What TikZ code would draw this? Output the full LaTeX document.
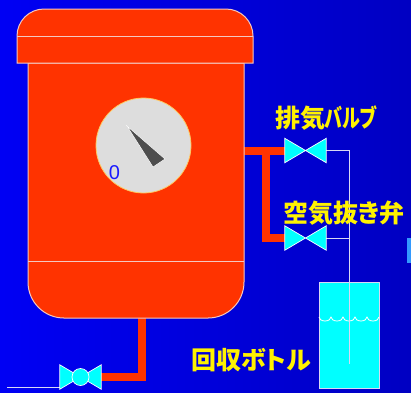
\documentclass[tikz,border=0pt]{standalone}
\usepackage{fontspec}
\newfontfamily\jpfont[RawFeature=+palt]{Noto Sans CJK JP}
\newfontfamily\numfont{Liberation Sans}
\definecolor{TankRed}{HTML}{FF3300}
\definecolor{TankEdge}{HTML}{F4C8C0}
\definecolor{ValveCyan}{HTML}{00FFFF}
\definecolor{BgLeft}{HTML}{0000F4}
\definecolor{BgRight}{HTML}{0000C2}
\definecolor{GaugeFace}{HTML}{DDDDDD}
\definecolor{GaugeRim}{HTML}{FFC860}
\definecolor{Needle}{HTML}{4D4D4D}
\definecolor{TubeGrey}{HTML}{D8D8F4}
\definecolor{SideBlue}{HTML}{3399FF}
\usetikzlibrary{positioning,calc}

\begin{document}
\begin{tikzpicture}[x=1pt, y=1pt,
    valve/.style={rectangle, inner sep=0pt, minimum width=41pt, minimum height=24pt},
    bowtie/.style={fill=ValveCyan, draw=white, line width=0.7pt, line join=miter},
    pipe/.style={draw=TankRed, line width=8pt},
    tube/.style={draw=TubeGrey, line width=1pt},
    wall/.style={fill=TankRed, draw=TankEdge, line width=1pt},
    lbl/.style={text=yellow, font=\jpfont\bfseries\fontsize{25}{25}\selectfont, inner sep=0pt}]
    \useasboundingbox (0,0) rectangle (411,-392);
    \shade[left color=BgLeft, right color=BgRight] (0,0) rectangle (411,-392);
    \fill[SideBlue] (407,-238) rectangle (411,-263);

    % valves and tie points
    \node[valve] (v1) at (305.5,-150.5) {};
    \node[valve] (v2) at (305.5,-238) {};
    \node[valve] (v3) at (80.5,-377) {};
    \coordinate (tankR) at (244,-150.5);
    \coordinate (tee) at (266,-150.5);
    \coordinate (tankB) at (142,-318);
    \coordinate (riser) at (349,-364);
    \coordinate (drain) at (7,-387);

    % red pipework
    \draw[pipe] (tankR) -- (v1.west);
    \draw[pipe] (tee) |- (v2.west);
    \draw[pipe] (tankB) |- (v3.east);

    % tank body, then lid
    \draw[wall] (28,-63) -- (28,-282) arc[start angle=180, end angle=270, radius=36]
      -- (208,-318) arc[start angle=270, end angle=360, radius=36] -- (244,-63) -- cycle;
    \draw[TankEdge, line width=1pt] (28,-261) -- (244,-261);
    \draw[wall] (17,-63) -- (17,-36) arc[start angle=180, end angle=90, radius=27]
      -- (226,-9) arc[start angle=90, end angle=0, radius=27] -- (253,-63) -- cycle;
    \draw[TankEdge, line width=1pt] (17,-36) -- (253,-36);

    % gauge
    \node[circle, fill=GaugeFace, draw=GaugeRim, line width=0.8pt, minimum size=95pt, inner sep=0pt] (gauge) at (143.5,-145.5) {};
    \draw[fill=Needle, draw=white, line width=0.5pt] (127,-126) -- (165,-159) -- (153,-167) -- cycle;
    \node[text=blue!90!white, font=\numfont\fontsize{20}{20}\selectfont, inner sep=0pt] (zero) at (114.5,-173) {0};

    % recovery bottle
    \draw[fill=ValveCyan, draw=TubeGrey, line width=1pt] (319,-282) rectangle (379,-388);
    \draw[white, line width=0.8pt] (319,-317)
      \foreach \i in {1,...,5} { arc[start angle=180, end angle=360, x radius=6, y radius=4] };

    % vent lines
    \draw[tube] (v1.east) -| (riser);
    \draw[tube] (v2.east) -- (v2.east -| riser);
    \draw[tube] (drain) -- (drain -| v3.west);

    \foreach \v in {v1,v2,v3}
      \draw[bowtie] (\v.north west) -- (\v.south east) -- (\v.north east) -- (\v.south west) -- cycle;
    \draw[bowtie] (v3.center) circle[radius=8.5];

    \node[lbl] (vent) at (326,-118) {排気\scalebox{0.72}[1]{バルブ}};
    \node[lbl] (bleed) at (344,-213) {空気抜き弁};
    \node[lbl] (bottle) at (251,-360) {回収ボトル};
  \end{tikzpicture}
\end{document}
